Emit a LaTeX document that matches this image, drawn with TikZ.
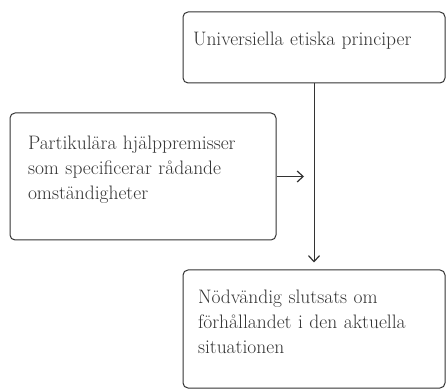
\documentclass[tikz,border=0pt]{standalone}
\usepackage{fontspec}
\usetikzlibrary{arrows.meta}

\tikzset{
  box/.style={draw=black!80, line width=1pt, rounded corners=5pt,
    align=left, text=black!80,
    font=\fontsize{19.5}{25}\selectfont},
}

\begin{document}
\begin{tikzpicture}[x=1pt,y=1pt,>={Straight Barb[length=6pt,width=11pt,line width=1.2pt]}]
  \useasboundingbox (0,0) rectangle (446,390);

  \node[box,inner xsep=10pt,text width=242pt,minimum height=71pt] at (314,342.5) (univ)
    {Universiella etiska principer\par\vspace*{14pt}};
  \node[box,inner xsep=18pt,text width=230pt,minimum height=127pt] at (143,213.5) (part)
    {Partikulära hjälppremisser\\som specificerar rådande\\omständigheter\par\vspace*{14pt}};
  \node[box,inner xsep=15pt,text width=232pt,minimum height=118pt] at (314,61) (slut)
    {Nödvändig slutsats om\\förhållandet i den aktuella\\situationen\par\vspace*{14pt}};

  \draw[->,black!80,line width=1pt,shorten >=7pt] (univ.south) -- (univ.south |- slut.north);
  \draw[->,black!80,line width=1pt,shorten >=10pt] (part.east) -- (part.east -| univ.south);
\end{tikzpicture}
\end{document}
